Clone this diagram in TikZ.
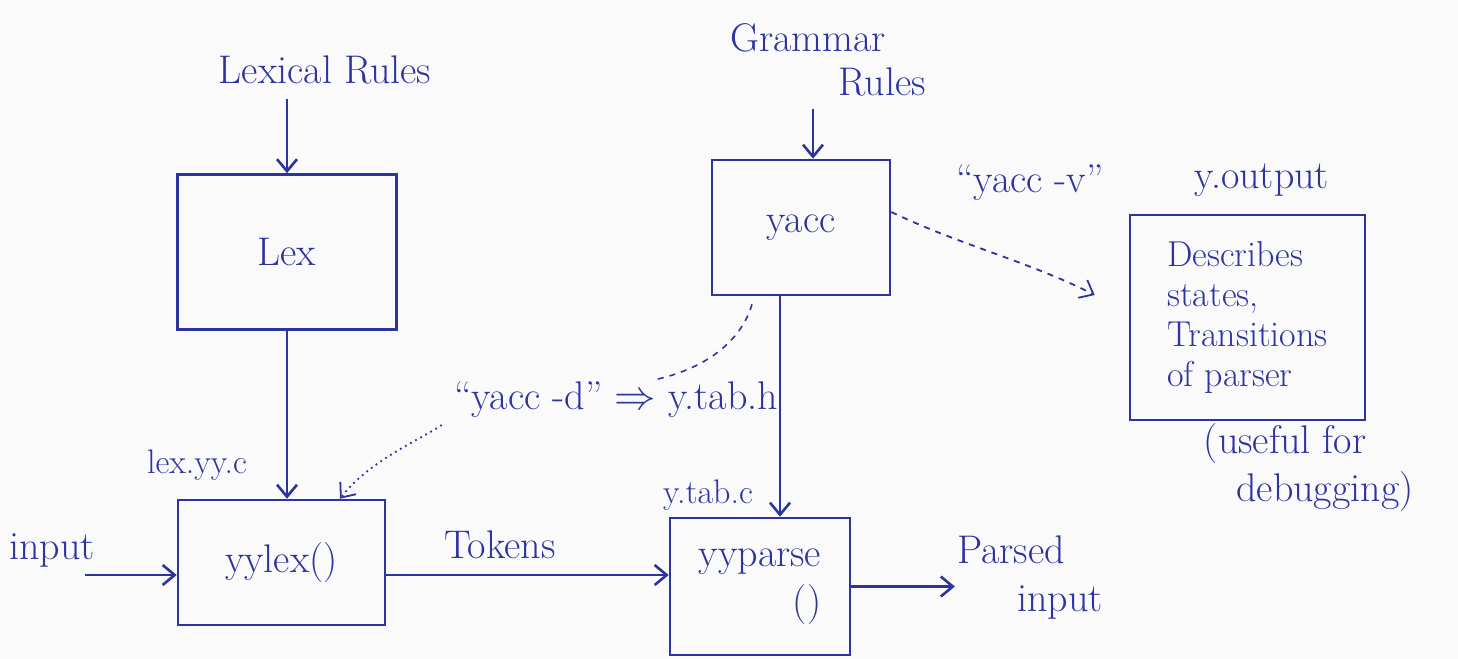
\documentclass[tikz,border=0pt]{standalone}
\usetikzlibrary{arrows.meta,calc}
\definecolor{inkblue}{RGB}{45,52,160}
\definecolor{paper}{RGB}{250,250,250}
\begin{document}
\begin{tikzpicture}[x=0.5pt,y=-0.5pt,
  ink/.style={draw=inkblue, line width=1.3pt},
  arr/.style={ink, -{Straight Barb[length=6pt,width=10pt]}},
  dasharr/.style={draw=inkblue, line width=0.9pt, dashed, -{Straight Barb[length=6pt,width=10pt]}},
  boxnode/.style={ink, rectangle, text=inkblue, font=\fontsize{20}{24}\selectfont},
  lbl/.style={text=inkblue, inner sep=1pt, font=\fontsize{20}{24}\selectfont},
  slbl/.style={text=inkblue, inner sep=1pt, font=\fontsize{17}{20}\selectfont}]
\fill[paper] (0,0) rectangle (1458,659);
\useasboundingbox (0,0) rectangle (1458,659);

% boxes
\node[boxnode, minimum width=109.5pt, minimum height=77.5pt] (lex) at (287,252) {Lex};
\node[boxnode, minimum width=103.5pt, minimum height=62.5pt] (yylex) at (281.5,562.5) {yylex()};
\node[boxnode, minimum width=90pt, minimum height=68.5pt, align=right] (yyparse) at (760,586.5) {yyparse\\()};
\node[boxnode, minimum width=89pt, minimum height=67.5pt] (yacc) at (801,227.5) {yacc};
\node[boxnode, minimum width=117.5pt, minimum height=102.5pt, align=left,
      font=\fontsize{18}{20}\selectfont] (yout) at (1247.5,317.5) {Describes\\states,\\Transitions\\of parser};

% labels
\node[lbl] (lexrules) at (325,70) {Lexical Rules};
\node[lbl] (grammar) at (808,38) {Grammar};
\node[lbl] (rules) at (882,82) {Rules};
\node[lbl] (input) at (52,550) {input};
\coordinate (inp) at (85,575);
\node[lbl] (tokens) at (500,545) {Tokens};
\node[lbl, align=left] (parsed) at (1030,578) {Parsed\\\hspace*{1.5em}input};
\node[slbl] (lexyyc) at (197,465) {lex.yy.c};
\node[slbl] (ytabc) at (708,495) {y.tab.c};
\node[lbl] (yaccv) at (1030,183) {``yacc -v''};
\node[lbl] (youtlbl) at (1262,180) {y.output};
\node[lbl, align=center] (useful) at (1285,468) {(useful for\\\hspace*{2em}debugging)};
\node[lbl] (yaccd) at (616,400) {``yacc -d'' $\Rightarrow$ y.tab.h};

% connectors
\draw[arr] (lexrules.south -| lex.north) ++(0,12) -- (lex.north);
\draw[arr] (lex.south) -- (yylex.north -| lex.south);
\draw[arr] (inp) -- (yylex.west |- inp);
\draw[arr] (yylex.east |- inp) -- (yyparse.west |- inp);
\draw[arr] (yyparse.east) -- (parsed.west |- yyparse.east);
\draw[arr] (rules.south -| 813,0) ++(0,10) -- (yacc.north -| 813,0);
\draw[arr] (yacc.south -| 780,0) -- (yyparse.north -| 780,0);
\draw[dasharr] (yacc.east |- 0,212) .. controls (960,245) and (1030,262) .. ([xshift=-17pt]yout.west |- 0,295);
\draw[draw=inkblue, line width=0.8pt, dashed] (yacc.south -| 752,0) ++(0,8) .. controls (740,345) and (700,370) .. (yaccd.north -| 655,0);
\draw[draw=inkblue, line width=0.9pt, dotted, -{Straight Barb[length=6pt,width=10pt]}]
  (yaccd.west |- 0,425) ++(-10,0) .. controls (420,440) and (370,460) .. (yylex.north -| 340,0);
\end{tikzpicture}
\end{document}
